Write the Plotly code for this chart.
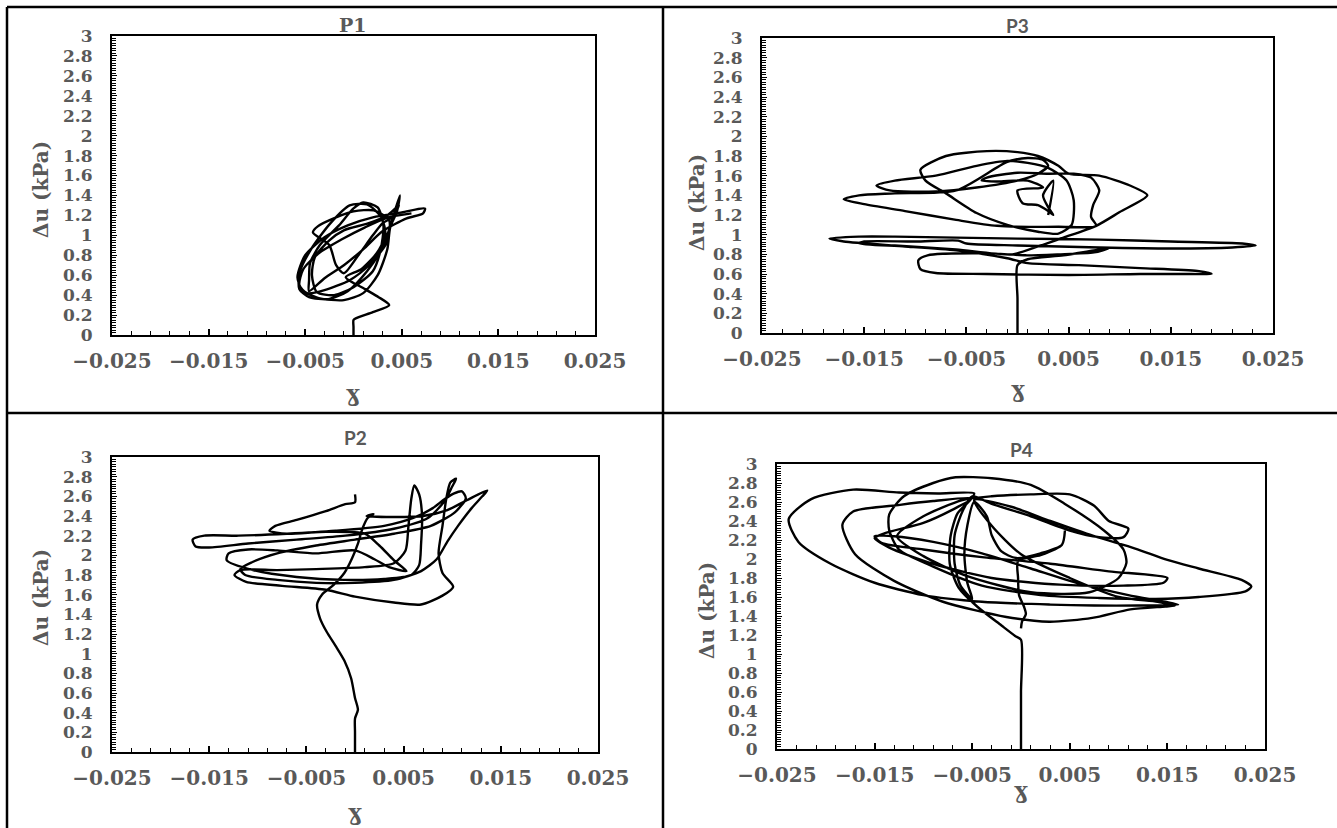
import plotly.graph_objects as go

# ---------------------------------------------------------------------------
# Stress-path records: shear strain (gamma) vs excess pore pressure du (kPa)
# ---------------------------------------------------------------------------
p1_path = [
    (0.0000, 0.00), (0.0000, 0.08), (0.0000, 0.15), (0.0003, 0.17), (0.0020, 0.23), (0.0037, 0.30),
    (0.0026, 0.38), (0.0012, 0.46), (-0.0008, 0.58),
    (0.0008, 0.66), (0.0024, 0.82), (0.0033, 1.00), (0.0029, 1.18), (0.0014, 1.31), (-0.0004, 1.30),
    (-0.0024, 1.12), (-0.0044, 0.86), (-0.0056, 0.62), (-0.0056, 0.46), (-0.0046, 0.38), (-0.0026, 0.36),
    (-0.0006, 0.44), (0.0014, 0.64), (0.0029, 0.86), (0.0037, 1.06), (0.0043, 1.25), (0.0048, 1.40),
    (0.0045, 1.24), (0.0038, 1.08), (0.0035, 0.86), (0.0025, 0.60), (0.0010, 0.42), (-0.0010, 0.35),
    (-0.0036, 0.37), (-0.0053, 0.45), (-0.0058, 0.58), (-0.0050, 0.80), (-0.0030, 0.98), (-0.0006, 1.10),
    (0.0020, 1.18), (0.0050, 1.23), (0.0074, 1.27), (0.0072, 1.22), (0.0055, 1.17), (0.0030, 1.04),
    (0.0010, 0.86), (-0.0010, 0.70), (-0.0030, 0.57), (-0.0046, 0.44),
    (-0.0046, 0.55), (-0.0045, 0.72), (-0.0035, 0.90), (-0.0015, 1.10), (0.0000, 1.27), (0.0010, 1.33),
    (0.0025, 1.28), (0.0031, 1.10), (0.0028, 0.85), (0.0020, 0.64), (0.0000, 0.48), (-0.0020, 0.40),
    (-0.0038, 0.43), (-0.0043, 0.60), (-0.0040, 0.78), (-0.0025, 0.95), (-0.0010, 1.05), (0.0015, 1.12),
    (0.0035, 1.20), (0.0047, 1.30),
    (0.0041, 1.19), (0.0030, 1.12), (0.0020, 1.00), (0.0005, 0.80), (-0.0010, 0.62), (-0.0018, 0.70),
    (-0.0025, 0.90), (-0.0042, 1.03), (-0.0037, 1.09), (-0.0018, 1.18), (0.0000, 1.24), (0.0021, 1.25),
    (0.0037, 1.15), (0.0034, 0.92), (0.0016, 0.70), (-0.0004, 0.55), (-0.0030, 0.45), (-0.0048, 0.42),
    (-0.0056, 0.50), (-0.0052, 0.66), (-0.0036, 0.82), (-0.0012, 0.96), (0.0012, 1.08), (0.0036, 1.18),
    (0.0060, 1.22),
]

p3_path = [
    (0.0000, 0.00), (0.0000, 0.35), (0.0000, 0.69),
    (0.0010, 0.75), (0.0045, 0.79), (0.0089, 0.86), (0.0075, 0.82), (0.0040, 0.80), (0.0008, 0.79),
    (-0.0030, 0.81), (-0.0088, 0.79), (-0.0097, 0.74), (-0.0095, 0.65), (-0.0080, 0.61), (-0.0030, 0.60),
    (0.0050, 0.59), (0.0120, 0.60), (0.0170, 0.60), (0.0190, 0.60), (0.0176, 0.63), (0.0120, 0.66),
    (0.0060, 0.69), (0.0010, 0.71),
    (-0.0010, 0.76), (-0.0060, 0.84), (-0.0110, 0.88), (-0.0155, 0.91), (-0.0150, 0.93), (-0.0100, 0.93),
    (-0.0058, 0.94), (-0.0050, 0.91), (0.0000, 0.89), (0.0080, 0.87), (0.0150, 0.86), (0.0210, 0.87),
    (0.0233, 0.89), (0.0220, 0.91), (0.0150, 0.93), (0.0080, 0.95), (0.0000, 0.96), (-0.0060, 0.97),
    (-0.0120, 0.98), (-0.0155, 0.98), (-0.0184, 0.96), (-0.0170, 0.93), (-0.0120, 0.89), (-0.0060, 0.85),
    (-0.0005, 0.80),
    (0.0020, 0.88), (0.0045, 0.97), (0.0077, 1.09), (0.0100, 1.23), (0.0127, 1.40), (0.0110, 1.50),
    (0.0080, 1.60), (0.0050, 1.62), (0.0040, 1.70), (0.0020, 1.80), (0.0000, 1.84), (-0.0030, 1.85),
    (-0.0070, 1.80), (-0.0095, 1.66), (-0.0090, 1.55), (-0.0070, 1.42), (-0.0040, 1.22), (-0.0010, 1.10),
    (0.0020, 1.03), (0.0040, 1.01), (0.0053, 1.10), (0.0055, 1.35), (0.0048, 1.55), (0.0030, 1.68),
    (0.0010, 1.73), (-0.0010, 1.75),
    (-0.0040, 1.70), (-0.0080, 1.60), (-0.0120, 1.55), (-0.0138, 1.50), (-0.0125, 1.45), (-0.0080, 1.44),
    (-0.0040, 1.48), (0.0000, 1.55), (0.0020, 1.62), (0.0030, 1.70), (0.0025, 1.76), (0.0010, 1.78),
    (-0.0010, 1.74),
    (-0.0060, 1.45), (-0.0120, 1.42), (-0.0155, 1.40), (-0.0170, 1.36), (-0.0150, 1.31), (-0.0110, 1.24),
    (-0.0060, 1.15), (-0.0020, 1.09), (0.0040, 1.08), (0.0077, 1.09),
    (0.0072, 1.18), (0.0074, 1.30), (0.0080, 1.45), (0.0072, 1.58), (0.0055, 1.62), (0.0030, 1.62),
    (0.0000, 1.63), (-0.0030, 1.58), (-0.0035, 1.55), (-0.0020, 1.54), (0.0010, 1.55), (0.0025, 1.48),
    (0.0000, 1.45), (0.0005, 1.32), (0.0020, 1.30), (0.0030, 1.24), (0.0035, 1.20), (0.0030, 1.28),
    (0.0025, 1.40), (0.0035, 1.55), (0.0030, 1.20),
]

p2_path = [
    (0.0000, 0.00), (0.0000, 0.20), (0.0000, 0.34), (0.0003, 0.43), (0.0000, 0.55), (-0.0004, 0.75),
    (-0.0011, 0.93), (-0.0020, 1.08), (-0.0029, 1.22), (-0.0036, 1.36), (-0.0039, 1.50), (-0.0034, 1.60),
    (-0.0022, 1.70), (-0.0011, 1.82), (-0.0003, 1.97), (0.0003, 2.12), (0.0008, 2.28), (0.0013, 2.38),
    (0.0019, 2.42), (0.0012, 2.40),
    (0.0040, 2.39), (0.0070, 2.40), (0.0095, 2.46), (0.0115, 2.56), (0.0136, 2.66), (0.0131, 2.60),
    (0.0120, 2.48), (0.0106, 2.30), (0.0095, 2.14), (0.0084, 1.96), (0.0068, 1.84), (0.0040, 1.75),
    (0.0000, 1.72), (-0.0040, 1.72), (-0.0080, 1.75), (-0.0113, 1.80), (-0.0118, 1.86), (-0.0106, 1.93),
    (-0.0080, 2.02), (-0.0040, 2.10), (0.0000, 2.16), (0.0040, 2.22), (0.0078, 2.30), (0.0103, 2.44),
    (0.0114, 2.58), (0.0110, 2.65), (0.0102, 2.63), (0.0092, 2.57), (0.0080, 2.48), (0.0060, 2.38),
    (0.0030, 2.30), (-0.0020, 2.25), (-0.0070, 2.22), (-0.0120, 2.20), (-0.0155, 2.20), (-0.0167, 2.16),
    (-0.0164, 2.09), (-0.0150, 2.08), (-0.0110, 2.12), (-0.0060, 2.16), (-0.0010, 2.20), (0.0040, 2.27),
    (0.0075, 2.38), (0.0092, 2.55), (0.0100, 2.70), (0.0104, 2.78), (0.0098, 2.74), (0.0094, 2.58),
    (0.0090, 2.30), (0.0086, 2.02), (0.0090, 1.82), (0.0101, 1.68), (0.0090, 1.59), (0.0068, 1.50),
    (0.0040, 1.52), (0.0000, 1.58), (-0.0030, 1.65), (-0.0075, 1.69), (-0.0112, 1.73), (-0.0124, 1.80),
    (-0.0118, 1.85), (-0.0080, 1.85), (-0.0040, 1.86), (0.0010, 1.88), (0.0040, 1.92), (0.0052, 2.05),
    (0.0055, 2.30), (0.0058, 2.58), (0.0061, 2.71), (0.0066, 2.62), (0.0069, 2.40), (0.0068, 2.12),
    (0.0066, 1.90), (0.0058, 1.80), (0.0030, 1.76), (-0.0010, 1.75), (-0.0060, 1.78), (-0.0105, 1.85),
    (-0.0132, 1.95), (-0.0130, 2.02), (-0.0110, 2.06), (-0.0080, 2.05), (-0.0040, 2.02), (0.0000, 2.05),
    (0.0020, 1.96), (0.0035, 1.88), (0.0053, 1.84), (0.0040, 1.95), (0.0025, 2.10), (0.0010, 2.22),
    (-0.0030, 2.24), (-0.0070, 2.22), (-0.0088, 2.25), (-0.0082, 2.30), (-0.0060, 2.36), (-0.0030, 2.45),
    (-0.0010, 2.52), (0.0000, 2.54), (0.0000, 2.62),
]

p4_path = [
    (0.0000, 0.00), (0.0000, 0.60), (0.0000, 1.15), (-0.0006, 1.19), (-0.0020, 1.30), (-0.0045, 1.50),
    (-0.0064, 1.70), (-0.0073, 1.95), (-0.0072, 2.25), (-0.0065, 2.48), (-0.0052, 2.62), (-0.0048, 2.69),
    (-0.0085, 2.69), (-0.0125, 2.70), (-0.0172, 2.73), (-0.0215, 2.63), (-0.0238, 2.42), (-0.0228, 2.18),
    (-0.0195, 1.95), (-0.0150, 1.75), (-0.0100, 1.62), (-0.0040, 1.55), (0.0030, 1.52), (0.0075, 1.51),
    (0.0120, 1.51), (0.0161, 1.52), (0.0148, 1.55), (0.0110, 1.62), (0.0060, 1.74), (0.0010, 1.90),
    (-0.0040, 2.06), (-0.0090, 2.18), (-0.0130, 2.24), (-0.0150, 2.24),
    (-0.0143, 2.17), (-0.0100, 2.10), (-0.0040, 2.02), (0.0030, 1.95), (0.0090, 1.87), (0.0150, 1.80),
    (0.0146, 1.75), (0.0105, 1.72), (0.0040, 1.73), (-0.0030, 1.80), (-0.0090, 1.95), (-0.0135, 2.12),
    (-0.0150, 2.22), (-0.0140, 2.27), (-0.0100, 2.38), (-0.0070, 2.52), (-0.0050, 2.64),
    (-0.0090, 2.61), (-0.0124, 2.57), (-0.0172, 2.50), (-0.0183, 2.36), (-0.0170, 2.05), (-0.0130, 1.77),
    (-0.0080, 1.55), (-0.0015, 1.39), (0.0029, 1.34), (0.0073, 1.38), (0.0112, 1.47), (0.0148, 1.50),
    (0.0158, 1.51), (0.0140, 1.55), (0.0100, 1.60),
    (0.0050, 1.80), (0.0000, 2.05), (-0.0030, 2.35), (-0.0048, 2.62),
    (-0.0010, 2.55), (0.0030, 2.40), (0.0075, 2.24), (0.0117, 2.11), (0.0150, 1.99), (0.0182, 1.90),
    (0.0226, 1.78), (0.0236, 1.71), (0.0230, 1.66), (0.0182, 1.60), (0.0138, 1.58), (0.0080, 1.59),
    (0.0020, 1.62), (-0.0040, 1.72), (-0.0090, 1.92), (-0.0125, 2.10), (-0.0135, 2.30),
    (-0.0135, 2.47), (-0.0120, 2.66), (-0.0090, 2.80), (-0.0067, 2.86), (-0.0030, 2.85), (0.0010, 2.78),
    (0.0045, 2.58), (0.0085, 2.30), (0.0105, 2.10), (0.0108, 1.96), (0.0100, 1.80), (0.0070, 1.65),
    (0.0010, 1.65), (-0.0055, 1.82), (-0.0100, 2.03), (-0.0127, 2.24),
    (-0.0100, 2.45), (-0.0060, 2.62), (-0.0030, 2.66), (0.0010, 2.68), (0.0050, 2.68), (0.0075, 2.56),
    (0.0090, 2.40), (0.0110, 2.32), (0.0105, 2.23), (0.0080, 2.23), (0.0050, 2.30), (0.0010, 2.45),
    (-0.0030, 2.58), (-0.0050, 2.66),
    (-0.0060, 2.50), (-0.0068, 2.25), (-0.0068, 1.95), (-0.0062, 1.72), (-0.0050, 1.58), (-0.0055, 1.75),
    (-0.0058, 2.05), (-0.0055, 2.35), (-0.0048, 2.60),
    (-0.0035, 2.45), (-0.0030, 2.25), (-0.0020, 2.08), (-0.0005, 2.01), (0.0020, 2.06), (0.0042, 2.15),
    (0.0045, 2.30), (0.0042, 2.15), (0.0020, 2.04), (-0.0003, 1.98), (-0.0003, 1.80), (-0.0002, 1.62),
    (0.0003, 1.50), (0.0005, 1.42), (0.0001, 1.34), (0.0000, 1.27),
]

# Axis ticks
x_tickvals = [-0.025, -0.015, -0.005, 0.005, 0.015, 0.025]
x_ticktext = ["\u22120.025", "\u22120.015", "\u22120.005", "0.005", "0.015", "0.025"]
y_tickvals = [0, 0.2, 0.4, 0.6, 0.8, 1, 1.2, 1.4, 1.6, 1.8, 2, 2.2, 2.4, 2.6, 2.8, 3]
y_ticktext = ["0", "0.2", "0.4", "0.6", "0.8", "1", "1.2", "1.4", "1.6", "1.8",
              "2", "2.2", "2.4", "2.6", "2.8", "3"]

W, H = 1337, 828
GREY = "#595959"
SERIF = "DejaVu Serif"
SANS = "Lato"

# name, path, plot box in pixels (left, right, top, bottom), title font and size,
# title centre y, y-title centre (x, y), x-title centre y
panels = [
    ("P1", p1_path, (112, 595, 36, 335), SERIF, 19, 25, (41, 190), 392),
    ("P3", p3_path, (762, 1273, 38, 333), SANS, 19, 25, (697, 202), 388),
    ("P2", p2_path, (112, 598, 457, 752), SANS, 19, 437, (41, 598), 811),
    ("P4", p4_path, (777, 1265, 464, 749), SANS, 19, 449, (707, 610), 789),
]


def px_x(p):
    return p / W


def px_y(p):
    return 1 - p / H


fig = go.Figure()
annotations = []
layout_axes = {}

for i, (name, path, box, tfont, tsize, ty, (yt_x, yt_y), gx_y) in enumerate(panels, start=1):
    left, right, top, bottom = box
    sfx = "" if i == 1 else str(i)
    gam = [p[0] for p in path]
    du = [p[1] for p in path]
    fig.add_trace(go.Scatter(
        x=gam, y=du, mode="lines",
        line=dict(color="black", width=2.4, shape="spline", smoothing=0.7),
        xaxis="x" + sfx, yaxis="y" + sfx, showlegend=False, hoverinfo="skip",
    ))
    layout_axes["xaxis" + sfx] = dict(
        domain=[px_x(left), px_x(right)], anchor="y" + sfx, range=[-0.025, 0.025],
        automargin=False,
        showline=True, linecolor="black", linewidth=2, mirror=True,
        showgrid=False, zeroline=False,
        ticks="inside", ticklen=6, tickwidth=1.5, tickcolor="black",
        tickmode="array", tickvals=x_tickvals, ticktext=x_ticktext,
        tickfont=dict(family=SERIF, size=20, color=GREY, weight="bold"),
        ticklabelstandoff=7,
        minor=dict(tickmode="linear", tick0=-0.025, dtick=0.002, ticks="inside",
                   ticklen=4, tickwidth=1.2, tickcolor="black"),
    )
    layout_axes["yaxis" + sfx] = dict(
        domain=[px_y(bottom), px_y(top)], anchor="x" + sfx, range=[0, 3],
        automargin=False,
        showline=True, linecolor="black", linewidth=2, mirror=True,
        showgrid=False, zeroline=False,
        ticks="inside", ticklen=5, tickwidth=1.2, tickcolor="black",
        tickmode="array", tickvals=y_tickvals, ticktext=y_ticktext,
        tickfont=dict(family=SERIF, size=17, color=GREY, weight="bold"),
        ticklabelstandoff=14,
        minor=dict(tickmode="linear", tick0=0, dtick=0.025, ticks="inside",
                   ticklen=4, tickwidth=1, tickcolor="black"),
    )
    # panel title
    annotations.append(dict(
        text=name, x=px_x((left + right) / 2), y=px_y(ty), xref="paper", yref="paper",
        xanchor="center", yanchor="middle", showarrow=False,
        font=dict(family=tfont, size=tsize, color=GREY, weight="bold"),
    ))
    # y-axis title
    annotations.append(dict(
        text="\u0394u (kPa)", x=px_x(yt_x), y=px_y(yt_y), xref="paper", yref="paper",
        xanchor="center", yanchor="middle", showarrow=False, textangle=-90,
        font=dict(family=SERIF, size=20, color=GREY, weight="bold"),
    ))
    # x-axis title
    annotations.append(dict(
        text="\u0263", x=px_x((left + right) / 2), y=px_y(gx_y), xref="paper", yref="paper",
        xanchor="center", yanchor="middle", showarrow=False,
        font=dict(family=SERIF, size=23, color=GREY, weight="bold"),
    ))

# table rules separating the four panels
line_style = dict(color="black", width=2.5)
shapes = [
    dict(type="line", xref="paper", yref="paper", x0=px_x(7), x1=1, y0=px_y(7), y1=px_y(7), line=line_style),
    dict(type="line", xref="paper", yref="paper", x0=px_x(7), x1=1, y0=px_y(413), y1=px_y(413), line=line_style),
    dict(type="line", xref="paper", yref="paper", x0=px_x(7), x1=px_x(7), y0=0, y1=px_y(7), line=line_style),
    dict(type="line", xref="paper", yref="paper", x0=px_x(663), x1=px_x(663), y0=0, y1=px_y(7), line=line_style),
]

fig.update_layout(
    width=W, height=H, margin=dict(l=0, r=0, t=0, b=0, autoexpand=False),
    paper_bgcolor="white", plot_bgcolor="white",
    annotations=annotations, shapes=shapes, showlegend=False,
    **layout_axes,
)

fig.write_html("out.html")
